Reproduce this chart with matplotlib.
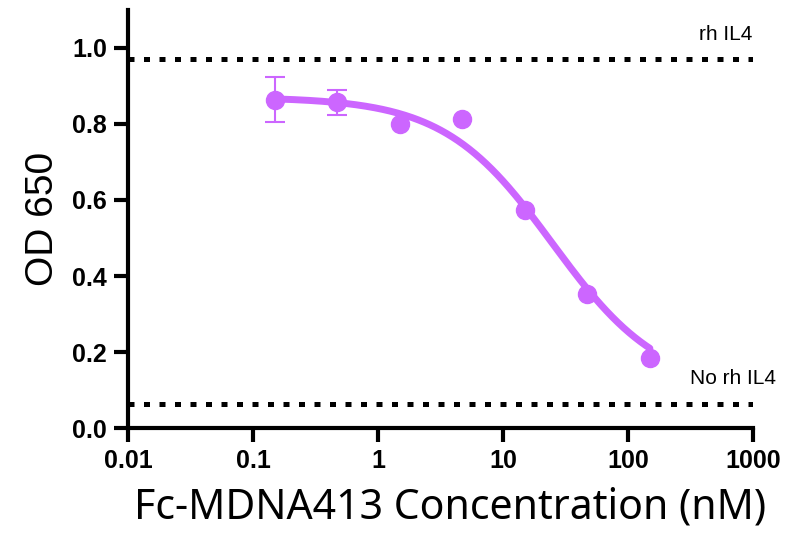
import numpy as np
import matplotlib.pyplot as plt

plt.rcParams['font.family'] = ['Liberation Sans', 'DejaVu Sans']

# data
conc = [0.15, 0.474, 1.5, 4.74, 15, 47.4, 150]
od = [0.862, 0.856, 0.800, 0.812, 0.574, 0.352, 0.185]
err_conc = [0.15, 0.474]
err_od = [0.864, 0.855]
err = [0.060, 0.033]

# 4PL fit params
top, bottom, ic50, hill = 0.87, 0.10, 25.0, 1.0
rh_il4 = 0.97
no_rh_il4 = 0.065

color = '#cc66ff'

fig = plt.figure(figsize=(7.95, 5.34), dpi=100)
ax = fig.add_axes([0.161, 0.198, 0.786, 0.784])

xfit = np.logspace(np.log10(conc[0]), np.log10(conc[-1]), 200)
yfit = bottom + (top - bottom) / (1 + (xfit / ic50) ** hill)
ax.plot(xfit, yfit, color=color, lw=5, solid_capstyle='round')
ax.errorbar(err_conc, err_od, yerr=err, fmt='none', ecolor=color,
            elinewidth=1.5, capsize=7, capthick=1.5)
ax.plot(conc, od, 'o', color=color, ms=13)

dots = (0, (1.2, 1.9))
ax.axhline(rh_il4, color='black', ls=dots, lw=3.6)
ax.axhline(no_rh_il4, color='black', ls=dots, lw=3.6)
ax.text(1000, rh_il4 + 0.04, 'rh IL4', ha='right', va='bottom', fontsize=15)
ax.text(1530, no_rh_il4 + 0.04, 'No rh IL4', ha='right', va='bottom', fontsize=15)

ax.set_xscale('log')
ax.set_xlim(0.01, 1000)
ax.set_ylim(0, 1.1)
ax.set_xticks([0.01, 0.1, 1, 10, 100, 1000])
ax.set_xticklabels(['0.01', '0.1', '1', '10', '100', '1000'])
ax.minorticks_off()
ax.set_yticks([0, 0.2, 0.4, 0.6, 0.8, 1.0])
ax.set_yticklabels(['0.0', '0.2', '0.4', '0.6', '0.8', '1.0'])

for s in ['top', 'right']:
    ax.spines[s].set_visible(False)
for s in ['left', 'bottom']:
    ax.spines[s].set_linewidth(3)
ax.tick_params(width=3, length=10, labelsize=18, pad=5)
for lab in ax.get_xticklabels() + ax.get_yticklabels():
    lab.set_fontweight('bold')

ax.set_ylabel('OD 650', fontsize=28, labelpad=8)
ax.set_xlabel('Fc-MDNA413 Concentration (nM)', fontsize=29.5,
              family=['Noto Sans', 'DejaVu Sans'], labelpad=10)
ax.xaxis.label.set_x(0.516)

fig.savefig('out.png', dpi=100)
